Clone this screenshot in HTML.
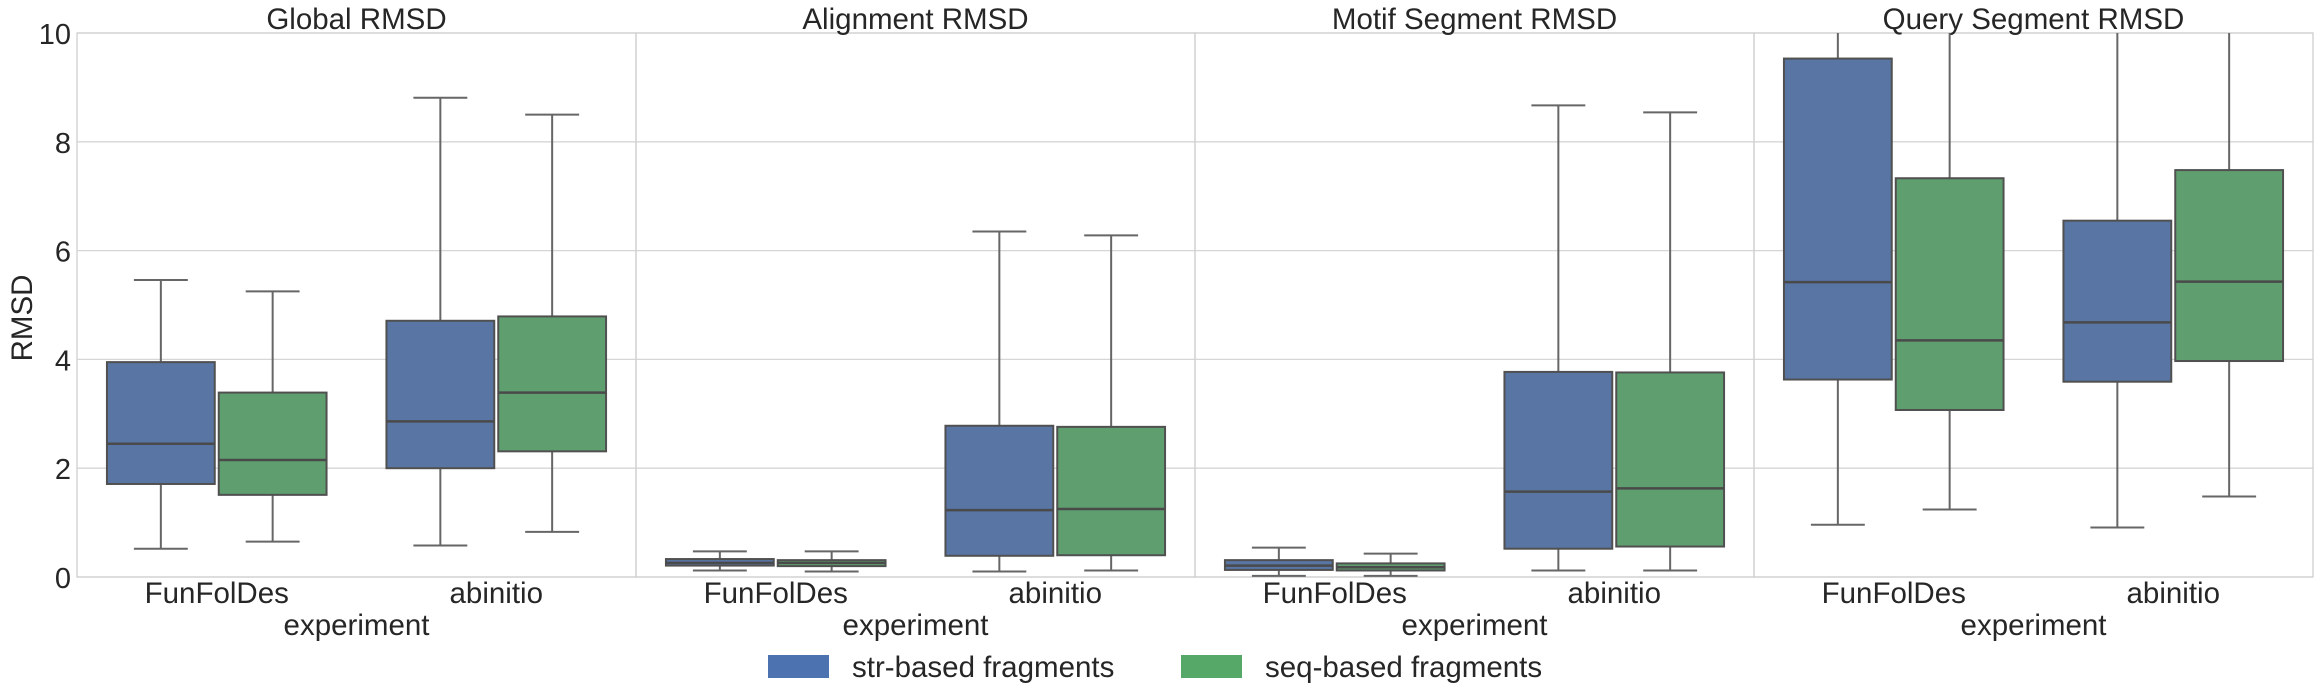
<!DOCTYPE html>
<html><head><meta charset="utf-8"><style>
html,body{margin:0;padding:0;background:#fff;}
svg{display:block;font-family:"Liberation Sans",Arial,sans-serif;}
</style></head><body>
<svg id="chart" width="2315" height="683" viewBox="0 0 2315 683" xmlns="http://www.w3.org/2000/svg"></svg>
<script>
const panelTitles = ["Global RMSD","Alignment RMSD","Motif Segment RMSD","Query Segment RMSD"];
const categories = ["FunFolDes","abinitio"];
const seriesNames = ["str-based fragments","seq-based fragments"];
const yTicks = [0,2,4,6,8,10];
// each entry: [low whisker, q1, median, q3, high whisker]; order panel -> category -> series
const strStats = [
  [[0.52,1.71,2.45,3.95,5.46],[0.58,2.0,2.86,4.71,8.81]],
  [[0.12,0.21,0.26,0.33,0.47],[0.10,0.39,1.23,2.78,6.35]],
  [[0.02,0.13,0.21,0.31,0.54],[0.12,0.52,1.57,3.77,8.67]],
  [[0.96,3.63,5.42,9.53,12.5],[0.91,3.59,4.68,6.55,12.5]]
];
const seqStats = [
  [[0.65,1.51,2.15,3.39,5.25],[0.83,2.31,3.39,4.79,8.50]],
  [[0.10,0.20,0.26,0.31,0.47],[0.12,0.40,1.25,2.76,6.28]],
  [[0.02,0.12,0.18,0.25,0.43],[0.12,0.56,1.63,3.76,8.54]],
  [[1.24,3.07,4.35,7.33,12.5],[1.48,3.97,5.43,7.48,12.5]]
];
</script>
<script>
const NS="http://www.w3.org/2000/svg";
const svgRoot=document.getElementById('chart');
const plotLeft=77, plotRight=2313, plotTop=33, plotBottom=577, yMax=10;
const pw=(plotRight-plotLeft)/4;
const fills=["#5875a4","#5f9e6e"], legendFills=["#4c72b0","#55a868"];
function el(tag,attrs,parent){const e=document.createElementNS(NS,tag);for(const k in attrs)e.setAttribute(k,attrs[k]);(parent||svgRoot).appendChild(e);return e;}
function yScale(v){return plotBottom-(v/yMax)*(plotBottom-plotTop);}
function xScale(p,c,s){const cw=pw/2;const cc=plotLeft+p*pw+cw*(c+0.5);const bw=cw*0.8/2;return cc-cw*0.4+bw*s;}
const defs=el('defs',{});
for(let p=0;p<4;p++){
  const x0=plotLeft+p*pw;
  const cp=el('clipPath',{id:'clip'+p},defs);
  el('rect',{x:x0,y:plotTop,width:pw,height:plotBottom-plotTop},cp);
  const g=el('g',{});
  
  
  yTicks.forEach(t=>{
    const l=el('line',{x1:x0,x2:x0+pw,y1:yScale(t),y2:yScale(t),stroke:'#d6d6d6','stroke-width':1.3},g);
    
    
  });
  const fr=el('rect',{x:x0,y:plotTop,width:pw,height:plotBottom-plotTop,fill:'none',stroke:'#d0d0d0','stroke-width':1.3},g);
  
  
  const tt=el('text',{x:x0+pw/2,y:29,'text-anchor':'middle','font-size':29.5,fill:'#262626'},g);
  tt.textContent=panelTitles[p];
  
  
  const bg=el('g',{'clip-path':'url(#clip'+p+')'},g);
  for(let c=0;c<2;c++){
    const xl=el('text',{x:x0+pw/4+c*pw/2,y:603,'text-anchor':'middle','font-size':29.5,fill:'#262626'},g);
    xl.textContent=categories[c];
    
    
    [strStats,seqStats].forEach((stats,s)=>{
      const d=stats[p][c];
      const bx=xScale(p,c,s), bw=pw/2*0.4;
      const ix=bx+2, iw=bw-4, cx=bx+bw/2;
      const box=el('g',{},bg);
      
      
      el('line',{x1:cx,x2:cx,y1:yScale(d[0]),y2:yScale(d[1]),stroke:'#666','stroke-width':2},box);
      el('line',{x1:cx,x2:cx,y1:yScale(d[3]),y2:yScale(d[4]),stroke:'#666','stroke-width':2},box);
      el('line',{x1:cx-iw/4,x2:cx+iw/4,y1:yScale(d[0]),y2:yScale(d[0]),stroke:'#666','stroke-width':2},box);
      el('line',{x1:cx-iw/4,x2:cx+iw/4,y1:yScale(d[4]),y2:yScale(d[4]),stroke:'#666','stroke-width':2},box);
      el('rect',{x:ix,y:yScale(d[3]),width:iw,height:yScale(d[1])-yScale(d[3]),fill:fills[s],stroke:'#505050','stroke-width':2},box);
      el('line',{x1:ix,x2:ix+iw,y1:yScale(d[2]),y2:yScale(d[2]),stroke:'#4a4a4a','stroke-width':2.5},box);
    });
  }
  const ex=el('text',{x:x0+pw/2,y:635,'text-anchor':'middle','font-size':29.5,fill:'#262626'},g);
  ex.textContent='experiment';
  
  
}
yTicks.forEach(t=>{
  const tl=el('text',{x:71,y:yScale(t)+11,'text-anchor':'end','font-size':29,fill:'#262626'});
  tl.textContent=String(t);
  
  
});
const yt=el('text',{x:0,y:0,transform:'translate(32,318) rotate(-90)','text-anchor':'middle','font-size':29.5,fill:'#262626'});
yt.textContent='RMSD';


const legend=el('g',{});


const lx=[768,1181];
seriesNames.forEach((n,i)=>{
  const ent=el('g',{},legend);
  
  
  el('rect',{x:lx[i],y:655,width:61,height:23,fill:legendFills[i]},ent);
  const t=el('text',{x:lx[i]+84,y:677,'font-size':29.5,fill:'#262626'},ent);
  t.textContent=n;
});
</script>
</body></html>
